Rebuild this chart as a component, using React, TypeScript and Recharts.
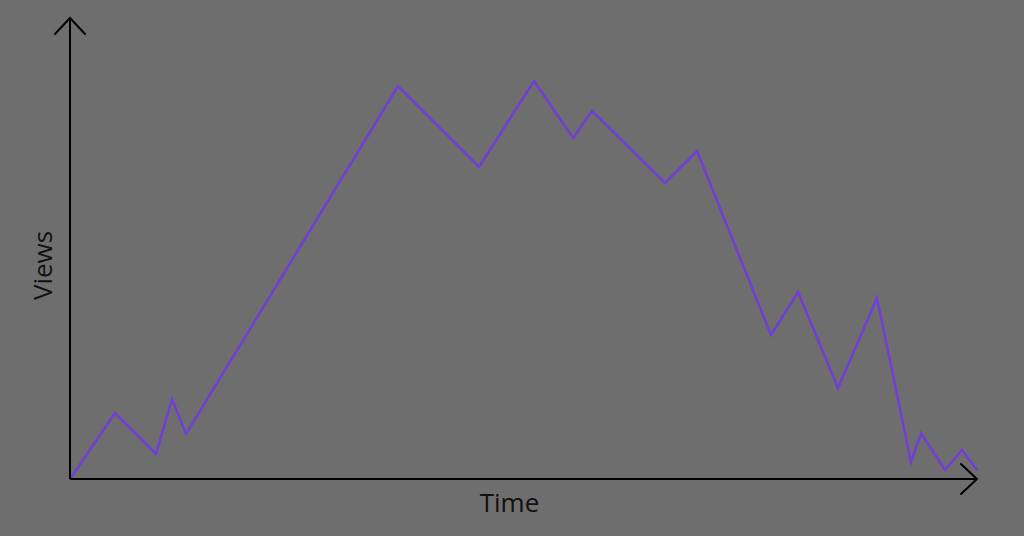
import { LineChart, Line, XAxis, YAxis } from 'recharts'

// time (arbitrary units) and views
const times = [0, 45, 86, 102, 116, 328, 409, 464, 503, 522, 595, 627, 701, 728, 768, 807, 841, 851, 875, 892, 907]
const views = [0, 66, 25, 80, 45, 393, 312, 398, 341, 368, 296, 328, 144, 187, 91, 181, 17, 46, 9, 29, 9]

const data = times.map((t, i) => ({ t, v: views[i] }))

const BG = '#6e6e6e'
const INK = '#000000'
const PURPLE = '#6f3fd6'
const FONT = '"Open Sans", "Noto Sans", sans-serif'

export default function App() {
  return (
    <div style={{ position: 'absolute', left: 0, top: 0, width: 1024, height: 536, background: BG }}>
      <LineChart width={1024} height={536} data={data} margin={{ top: 18, right: 47, left: 69, bottom: 56 }}>
        <defs>
          <marker id="arrow" viewBox="0 0 20 34" refX="18" refY="17" markerWidth="20" markerHeight="34"
            markerUnits="userSpaceOnUse" orient="auto-start-reverse">
            <path d="M2 2 L18 17 L2 32" fill="none" stroke={INK} strokeWidth={2} strokeLinecap="round" />
          </marker>
        </defs>
        <XAxis
          dataKey="t"
          type="number"
          domain={[0, 907]}
          height={1}
          tick={false}
          tickLine={false}
          axisLine={{ stroke: INK, strokeWidth: 2, markerEnd: 'url(#arrow)' }}
          label={{
            content: ({ viewBox }: any) => (
              <text x={viewBox.x + viewBox.width / 2 - 14} y={viewBox.y + 33} textAnchor="middle"
                fontFamily={FONT} fontSize={26} fill="#111">Time</text>
            ),
          }}
        />
        <YAxis
          type="number"
          domain={[0, 461]}
          width={1}
          tick={false}
          tickLine={false}
          axisLine={{ stroke: INK, strokeWidth: 2, markerStart: 'url(#arrow)' }}
          label={{
            content: ({ viewBox }: any) => {
              const cx = viewBox.x - 17
              const cy = viewBox.y + viewBox.height / 2 + 17
              return (
                <text x={cx} y={cy} textAnchor="middle" transform={`rotate(-90 ${cx} ${cy})`}
                  fontFamily={FONT} fontSize={26} fill="#111">Views</text>
              )
            },
          }}
        />
        <Line type="linear" dataKey="v" stroke={PURPLE} strokeWidth={2.5} dot={false} isAnimationActive={false} />
      </LineChart>
    </div>
  )
}
